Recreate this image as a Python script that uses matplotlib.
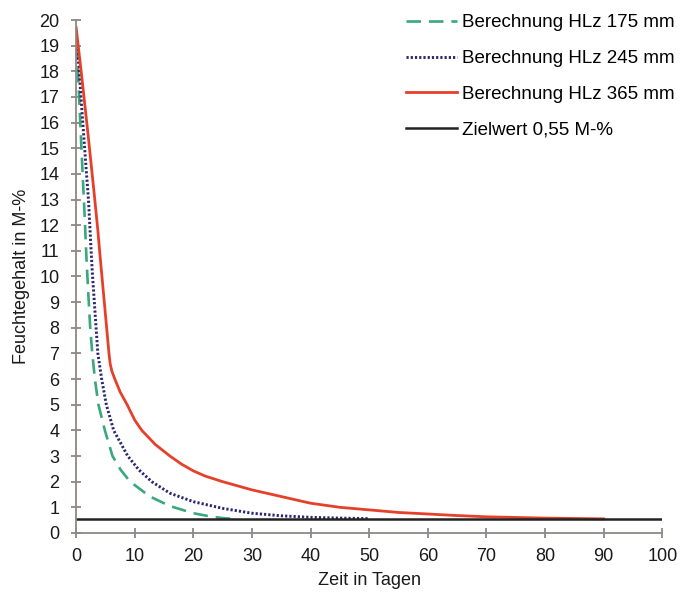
import matplotlib.pyplot as plt

# Werte
tage_175 = [0, 0.3, 0.7, 1.0, 1.4, 1.8, 2.15, 2.4, 2.75, 3.2, 3.8, 4.9, 6.2, 7.6, 9.2,
            12.6, 16, 20, 23, 25, 27]
feuchte_175 = [19.0, 18.0, 16.0, 14.5, 12.6, 10.5, 9.0, 8.0, 7.0, 6.0, 5.0, 4.0, 3.0, 2.46, 2.0,
               1.42, 1.05, 0.77, 0.64, 0.58, 0.55]

tage_245 = [0, 0.3, 1.1, 1.7, 2.1, 2.55, 2.8, 3.1, 3.4, 3.7, 4.35, 5.15, 6.4, 8.8, 10.7, 12.9,
            16, 20, 25, 30, 35, 40, 45, 50]
feuchte_245 = [19.2, 18.7, 16.1, 14.2, 13.0, 11.0, 10.0, 9.0, 8.0, 7.0, 6.0, 5.0, 4.0, 3.0, 2.46, 2.0,
               1.55, 1.22, 0.96, 0.77, 0.67, 0.61, 0.58, 0.56]

tage_365 = [0, 1, 2, 3, 3.7, 4.0, 4.4, 4.8, 5.2, 5.6, 5.8, 6.1, 6.6, 7.5, 8.7, 10.0, 11.2, 13.5, 16,
            18, 20, 22, 25, 30, 35, 40, 45, 50, 55, 60, 65, 70, 80, 90]
feuchte_365 = [19.7, 17.7, 15.6, 13.4, 11.8, 11.0, 10.0, 9.0, 8.0, 7.0, 6.6, 6.3, 6.0, 5.5, 5.0, 4.4, 4.0, 3.45, 3.0,
               2.68, 2.42, 2.22, 2.0, 1.68, 1.42, 1.16, 1.0, 0.9, 0.8, 0.74, 0.68, 0.63, 0.58, 0.55]

zielwert = 0.55
tage_ziel = [0, 100]

plt.rcParams['font.family'] = ['Liberation Sans', 'DejaVu Sans']

fig = plt.figure(figsize=(6.8, 5.92), dpi=100)
ax = fig.add_axes([0.112, 0.0997, 0.862, 0.8665])

ax.plot(tage_175, feuchte_175, color='#3aa77c', linewidth=1.9, dashes=(5.5, 3),
        label='Berechnung HLz 175 mm')
ax.plot(tage_245, feuchte_245, color='#2a2870', linewidth=2.1, linestyle=(0, (0.75, 0.7)),
        label='Berechnung HLz 245 mm')
ax.plot(tage_365, feuchte_365, color='#e5412a', linewidth=2.0,
        label='Berechnung HLz 365 mm')
ax.plot(tage_ziel, [zielwert, zielwert], color='#222222', linewidth=1.8,
        label='Zielwert 0,55 M-%')

ax.set_xlim(0, 100)
ax.set_ylim(0, 20)
ax.set_xticks(range(0, 101, 10))
ax.set_yticks(range(0, 21))
for s in ['top', 'right']:
    ax.spines[s].set_visible(False)
for s in ['left', 'bottom']:
    ax.spines[s].set_color('#8d8883')
    ax.spines[s].set_linewidth(1.3)
ax.tick_params(direction='inout', length=7.2, width=1.3, color='#8d8883',
               labelsize=13, labelcolor='#1a1a1a')
ax.tick_params(axis='y', pad=8.5)
ax.tick_params(axis='x', pad=7)

ax.set_xlabel('Zeit in Tagen', fontsize=13, color='#1a1a1a', labelpad=5)
ax.set_ylabel('Feuchtegehalt in M-%', fontsize=13, color='#1a1a1a', labelpad=7)

fig.legend(loc='upper left', bbox_to_anchor=(0.5765, 1.0), frameon=False,
           fontsize=13.5, handlelength=2.7, handletextpad=0.27, labelspacing=1.0,
           borderpad=0.25)

fig.savefig('out.png', dpi=100)
